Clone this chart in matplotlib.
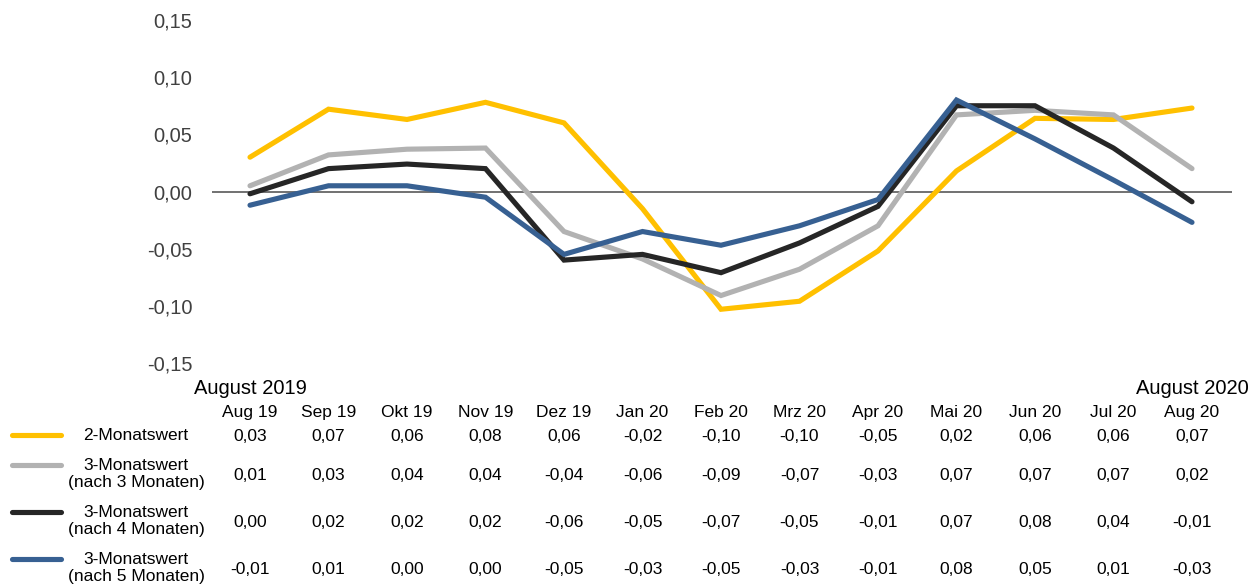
import matplotlib
matplotlib.use("Agg")
import matplotlib.pyplot as plt
from matplotlib.transforms import blended_transform_factory

plt.rcParams['font.family'] = ['Liberation Sans', 'DejaVu Sans']

# months on the x axis
months = ['Aug 19', 'Sep 19', 'Okt 19', 'Nov 19', 'Dez 19', 'Jan 20', 'Feb 20',
          'Mrz 20', 'Apr 20', 'Mai 20', 'Jun 20', 'Jul 20', 'Aug 20']

# line values
zwei_monat = [0.030, 0.072, 0.063, 0.078, 0.060, -0.015, -0.103, -0.096, -0.052, 0.018, 0.064, 0.063, 0.073]
drei_nach3 = [0.005, 0.032, 0.037, 0.038, -0.035, -0.059, -0.091, -0.068, -0.030, 0.067, 0.071, 0.067, 0.020]
drei_nach4 = [-0.002, 0.020, 0.024, 0.020, -0.060, -0.055, -0.071, -0.045, -0.013, 0.075, 0.075, 0.038, -0.009]
drei_nach5 = [-0.012, 0.005, 0.005, -0.005, -0.055, -0.035, -0.047, -0.030, -0.007, 0.080, 0.046, 0.010, -0.027]

# values printed in the table
tab_zwei = [0.03, 0.07, 0.06, 0.08, 0.06, -0.02, -0.10, -0.10, -0.05, 0.02, 0.06, 0.06, 0.07]
tab_nach3 = [0.01, 0.03, 0.04, 0.04, -0.04, -0.06, -0.09, -0.07, -0.03, 0.07, 0.07, 0.07, 0.02]
tab_nach4 = [0.00, 0.02, 0.02, 0.02, -0.06, -0.05, -0.07, -0.05, -0.01, 0.07, 0.08, 0.04, -0.01]
tab_nach5 = [-0.01, 0.01, 0.00, 0.00, -0.05, -0.03, -0.05, -0.03, -0.01, 0.08, 0.05, 0.01, -0.03]

labels = ['2-Monatswert', '3-Monatswert\n(nach 3 Monaten)',
          '3-Monatswert\n(nach 4 Monaten)', '3-Monatswert\n(nach 5 Monaten)']
colors = ['#FFC000', '#B2B2B2', '#262626', '#376092']
series = [zwei_monat, drei_nach3, drei_nach4, drei_nach5]
tables = [tab_zwei, tab_nach3, tab_nach4, tab_nach5]

W, H = 1255, 587
fig = plt.figure(figsize=(W / 100, H / 100), dpi=100)
ax = fig.add_axes([212 / W, 1 - 363 / H, (1232 - 212) / W, (363 - 20) / H])

x = list(range(len(months)))
ax.axhline(0, color='#595959', lw=1.2, zorder=1)
for vals, c in zip(series, colors):
    ax.plot(x, vals, color=c, lw=3.7, solid_capstyle='round', solid_joinstyle='miter', zorder=2)

step = (1192 - 250) / 12
ax.set_xlim(-(250 - 212) / step, 12 + (1232 - 1192) / step)
ax.set_ylim(-0.15, 0.15)
yt = [-0.15, -0.10, -0.05, 0, 0.05, 0.10, 0.15]
ax.set_yticks(yt)
ax.set_yticklabels([f'{v:.2f}'.replace('.', ',') for v in yt], fontsize=14.5, color='#404040')
ax.tick_params(axis='y', length=0, pad=14)
ax.set_xticks([])
for s in ax.spines.values():
    s.set_visible(False)

# table below the chart
tr = blended_transform_factory(ax.transData, fig.transFigure)
fy = lambda py: 1 - py / H

ax.text(0, fy(387), 'August 2019', transform=tr, ha='center', va='center_baseline', fontsize=14.5)
ax.text(12, fy(387), 'August 2020', transform=tr, ha='center', va='center_baseline', fontsize=14.5)

for i, m in enumerate(months):
    ax.text(i, fy(411), m, transform=tr, ha='center', va='center_baseline', fontsize=12.5)

row_y = [435, 474, 521, 568]
for r, (lab, c, tab) in enumerate(zip(labels, colors, tables)):
    yy = fy(row_y[r])
    ly = fy(row_y[r] if r == 0 else row_y[r] - 9)
    fig.add_artist(plt.Line2D([12 / W, 61 / W], [ly, ly], color=c, lw=3.7,
                              solid_capstyle='round', transform=fig.transFigure))
    fig.text(136 / W, yy, lab, ha='center', va='center', fontsize=12.5, linespacing=1.2)
    for i, v in enumerate(tab):
        ax.text(i, yy, f'{v:.2f}'.replace('.', ','), transform=tr,
                ha='center', va='center_baseline', fontsize=12.5)

fig.savefig('out.png', dpi=100)
